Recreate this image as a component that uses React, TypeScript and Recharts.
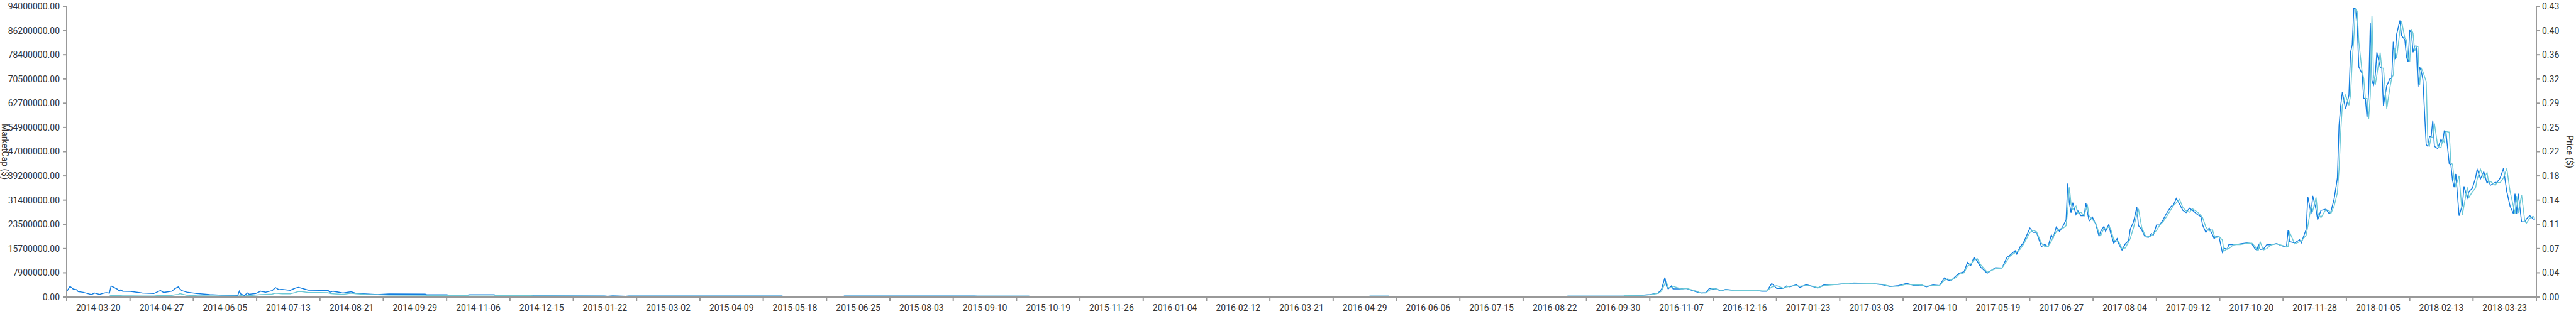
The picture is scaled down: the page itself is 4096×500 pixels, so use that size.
import React from 'react';
import { LineChart, Line, XAxis, YAxis } from 'recharts';

// days since 2014-03-01
const days = [
  0, 2, 4, 6, 7, 10, 15, 17, 20, 22, 24, 26, 27, 29, 31, 32, 33, 34, 39, 46,
  53, 57, 59, 64, 66, 68, 69, 70, 73, 79, 87, 94, 102, 104, 105, 106, 108, 110, 111, 115,
  118, 121, 125, 127, 129, 131, 136, 139, 141, 143, 147, 154, 159, 160, 162, 168, 173, 176, 182, 189,
  196, 218, 219, 231, 233, 243, 245, 260, 261, 282, 284, 291, 327, 329, 332, 340, 342, 435, 436, 472,
  473, 552, 554, 585, 587, 724, 762, 792, 793, 804, 805, 870, 871, 899, 901, 911, 913, 947, 948, 958,
  963, 968, 970, 972, 973, 974, 976, 977, 982, 985, 991, 994, 997, 999, 1001, 1003, 1006, 1009, 1014, 1026,
  1031, 1034, 1037, 1040, 1044, 1046, 1048, 1052, 1054, 1058, 1062, 1065, 1069, 1077, 1087, 1097, 1104, 1109, 1114, 1119,
  1124, 1128, 1131, 1135, 1139, 1142, 1144, 1146, 1149, 1151, 1154, 1156, 1158, 1160, 1162, 1164, 1168, 1173, 1177, 1180,
  1182, 1185, 1186, 1188, 1190, 1194, 1196, 1198, 1201, 1203, 1205, 1207, 1208, 1210, 1212, 1214, 1216, 1217, 1218, 1219,
  1220, 1222, 1223, 1225, 1227, 1228, 1229, 1230, 1232, 1234, 1236, 1237, 1239, 1240, 1242, 1243, 1245, 1247, 1248, 1250,
  1252, 1254, 1255, 1257, 1259, 1260, 1262, 1264, 1266, 1268, 1269, 1271, 1273, 1275, 1277, 1280, 1281, 1283, 1285, 1287,
  1289, 1291, 1293, 1296, 1298, 1299, 1301, 1303, 1305, 1306, 1307, 1309, 1311, 1312, 1314, 1315, 1318, 1322, 1326, 1329,
  1331, 1332, 1333, 1334, 1336, 1338, 1341, 1344, 1347, 1350, 1351, 1352, 1355, 1358, 1359, 1362, 1363, 1365, 1366, 1368,
  1369, 1371, 1374, 1376, 1377, 1379, 1381, 1382, 1383, 1384, 1386, 1388, 1389, 1390, 1391, 1392, 1393, 1394, 1396, 1397,
  1398, 1399, 1400, 1401, 1402, 1403, 1404, 1405, 1407, 1408, 1409, 1411, 1413, 1414, 1415, 1416, 1417, 1419, 1420, 1422,
  1423, 1424, 1425, 1426, 1427, 1428, 1429, 1430, 1431, 1432, 1433, 1435, 1436, 1437, 1438, 1439, 1440, 1442, 1444, 1445,
  1446, 1447, 1449, 1450, 1451, 1452, 1453, 1455, 1457, 1458, 1460, 1461, 1463, 1465, 1466, 1468, 1470, 1472, 1473, 1474,
  1477, 1478, 1480, 1482, 1484, 1486, 1488, 1489, 1490, 1491, 1493, 1495, 1496, 1498, 1500, 1501,
];

// market cap, millions of $
const marketCapM = [
  1.77, 3.45, 2.6, 2.4, 1.77, 1.55, 0.81, 1.3, 0.88, 1.2, 1.4, 1.3, 3.6, 3.05, 2.5, 1.9, 2.4, 1.9, 1.83, 1.3,
  1.15, 2.1, 1.5, 1.9, 2.8, 3.3, 2.6, 2.1, 1.6, 1.15, 0.8, 0.6, 0.55, 0.5, 1.9, 0.95, 0.55, 1.35, 0.9, 1.15,
  1.9, 1.6, 2.1, 3.05, 2.4, 2.5, 2.2, 2.9, 3.15, 2.85, 2.25, 2.2, 2.2, 1.55, 1.9, 1.3, 1.7, 1.2, 1.0, 0.8,
  1.0, 0.95, 0.75, 0.75, 0.6, 0.55, 0.75, 0.75, 0.55, 0.55, 0.45, 0.4, 0.35, 0.25, 0.4, 0.25, 0.35, 0.35, 0.15, 0.15,
  0.35, 0.35, 0.28, 0.28, 0.15, 0.15, 0.25, 0.25, 0.3, 0.3, 0.1, 0.1, 0.25, 0.25, 0.1, 0.1, 0.3, 0.3, 0.55, 0.6,
  0.8, 1.3, 2.6, 6.3, 3.5, 2.64, 3.6, 2.64, 2.64, 2.8, 1.7, 1.3, 1.4, 2.8, 2.6, 2.7, 2.0, 2.5, 2.2, 2.2,
  1.9, 1.9, 4.4, 2.8, 2.8, 3.6, 3.3, 4.0, 3.1, 4.0, 3.4, 2.9, 4.0, 4.1, 4.5, 4.4, 4.0, 3.4, 3.7, 4.4,
  3.7, 3.9, 3.3, 3.9, 3.7, 6.2, 5.5, 5.3, 6.8, 7.7, 8.2, 11.2, 10.2, 12.8, 11.6, 9.7, 7.7, 9.5, 9.4, 12.8,
  13.6, 15.0, 13.9, 16.2, 17.5, 22.3, 20.9, 20.9, 16.3, 17.0, 16.2, 20.1, 18.9, 22.6, 21.2, 22.8, 25.0, 36.7, 30.4, 27.3,
  30.5, 26.7, 28.0, 26.3, 26.3, 30.4, 27.3, 24.6, 25.8, 23.6, 19.7, 21.2, 22.8, 21.2, 23.5, 20.9, 17.4, 18.9, 17.2, 15.2,
  17.2, 18.2, 21.9, 24.3, 29.0, 23.1, 21.7, 19.5, 19.3, 20.5, 20.0, 23.3, 23.3, 25.0, 27.0, 29.4, 29.4, 31.9, 30.0, 28.0,
  27.3, 28.7, 28.0, 26.6, 26.0, 23.3, 20.9, 22.3, 20.2, 18.9, 19.5, 19.5, 14.5, 15.8, 15.5, 17.0, 16.9, 17.2, 17.5, 17.2,
  15.5, 15.2, 16.9, 15.4, 15.5, 16.9, 16.9, 17.3, 16.6, 16.2, 21.6, 17.9, 17.5, 18.5, 17.5, 21.9, 32.4, 27.0, 32.7, 28.3,
  25.0, 28.0, 28.4, 27.0, 27.5, 31.7, 38.5, 55.4, 61.9, 66.2, 60.8, 65.2, 79.1, 81.5, 93.4, 93.2, 88.6, 74.4, 72.3, 64.2,
  64.2, 58.1, 66.2, 88.5, 70.0, 68.6, 71.7, 79.1, 74.4, 74.0, 61.9, 68.3, 70.6, 70.6, 82.5, 76.9, 84.9, 89.4, 84.5, 83.2,
  77.7, 76.0, 86.2, 85.6, 79.1, 81.1, 81.1, 67.9, 74.4, 73.0, 70.3, 49.3, 48.7, 52.0, 51.7, 57.1, 48.7, 48.0, 51.0, 49.9,
  53.7, 53.4, 43.2, 42.9, 37.8, 35.5, 39.8, 26.3, 29.7, 35.8, 32.1, 34.1, 35.1, 38.5, 41.3, 38.2, 40.5, 36.8, 37.8, 36.1,
  37.1, 37.0, 38.5, 41.6, 34.1, 29.4, 27.0, 33.4, 27.0, 33.4, 24.3, 24.3, 25.3, 26.3, 25.3, 25.0,
];

// price, $
const price = [
  0.0006, 0.0009, 0.0012, 0.0009, 0.0007, 0.0009, 0.0006, 0.0009, 0.0006, 0.0007, 0.0009, 0.0012, 0.0025, 0.0028, 0.0025, 0.0022, 0.0022, 0.0019, 0.0019, 0.0016,
  0.0016, 0.0025, 0.0022, 0.0025, 0.0034, 0.004, 0.0053, 0.0045, 0.0028, 0.0022, 0.0019, 0.0016, 0.0016, 0.0014, 0.0019, 0.0028, 0.0009, 0.0028, 0.0022, 0.0031,
  0.0037, 0.004, 0.0044, 0.0059, 0.0053, 0.005, 0.005, 0.0068, 0.0084, 0.0081, 0.0068, 0.0068, 0.0065, 0.0053, 0.005, 0.004, 0.0059, 0.005, 0.004, 0.0034,
  0.003, 0.0028, 0.0026, 0.0025, 0.0022, 0.0022, 0.003, 0.003, 0.0022, 0.0022, 0.0019, 0.0017, 0.0015, 0.0011, 0.0015, 0.0011, 0.0015, 0.0015, 0.0007, 0.0007,
  0.0015, 0.0015, 0.0013, 0.0013, 0.0007, 0.0007, 0.0011, 0.0011, 0.0014, 0.0014, 0.0005, 0.0005, 0.0011, 0.0011, 0.0005, 0.0005, 0.0014, 0.0014, 0.0025, 0.0027,
  0.0035, 0.0055, 0.009, 0.02, 0.022, 0.014, 0.014, 0.016, 0.012, 0.013, 0.009, 0.006, 0.006, 0.01, 0.013, 0.012, 0.01, 0.011, 0.01, 0.01,
  0.009, 0.009, 0.015, 0.017, 0.013, 0.015, 0.016, 0.017, 0.016, 0.017, 0.016, 0.014, 0.017, 0.019, 0.021, 0.02, 0.019, 0.016, 0.016, 0.019,
  0.018, 0.018, 0.016, 0.017, 0.017, 0.025, 0.027, 0.025, 0.029, 0.034, 0.036, 0.046, 0.049, 0.055, 0.057, 0.048, 0.037, 0.042, 0.043, 0.054,
  0.061, 0.066, 0.067, 0.071, 0.078, 0.096, 0.099, 0.097, 0.08, 0.075, 0.075, 0.083, 0.089, 0.097, 0.101, 0.102, 0.106, 0.13, 0.163, 0.138,
  0.13, 0.135, 0.125, 0.126, 0.121, 0.13, 0.136, 0.12, 0.115, 0.11, 0.095, 0.091, 0.102, 0.101, 0.104, 0.102, 0.085, 0.083, 0.082, 0.072,
  0.073, 0.082, 0.087, 0.103, 0.122, 0.131, 0.103, 0.092, 0.089, 0.091, 0.094, 0.099, 0.107, 0.112, 0.119, 0.131, 0.135, 0.14, 0.145, 0.133,
  0.128, 0.126, 0.131, 0.126, 0.121, 0.118, 0.104, 0.098, 0.1, 0.092, 0.088, 0.09, 0.085, 0.068, 0.072, 0.072, 0.078, 0.078, 0.08, 0.08,
  0.075, 0.07, 0.07, 0.082, 0.07, 0.072, 0.078, 0.079, 0.077, 0.075, 0.075, 0.096, 0.079, 0.082, 0.083, 0.092, 0.105, 0.135, 0.128, 0.148,
  0.125, 0.118, 0.13, 0.128, 0.124, 0.135, 0.155, 0.19, 0.245, 0.285, 0.3, 0.285, 0.3, 0.35, 0.385, 0.428, 0.425, 0.38, 0.335, 0.325,
  0.295, 0.295, 0.265, 0.3, 0.418, 0.33, 0.315, 0.33, 0.363, 0.34, 0.34, 0.28, 0.312, 0.325, 0.33, 0.37, 0.355, 0.395, 0.41, 0.385,
  0.382, 0.355, 0.35, 0.398, 0.392, 0.365, 0.372, 0.372, 0.315, 0.34, 0.335, 0.32, 0.23, 0.225, 0.238, 0.237, 0.258, 0.224, 0.222, 0.234,
  0.23, 0.246, 0.245, 0.2, 0.197, 0.175, 0.165, 0.18, 0.122, 0.136, 0.163, 0.148, 0.156, 0.162, 0.175, 0.19, 0.176, 0.185, 0.17, 0.172,
  0.166, 0.17, 0.17, 0.177, 0.191, 0.157, 0.135, 0.124, 0.15, 0.125, 0.152, 0.112, 0.11, 0.117, 0.12, 0.117,
];

const xLabels = [
  '2014-03-20', '2014-04-27', '2014-06-05', '2014-07-13', '2014-08-21', '2014-09-29', '2014-11-06', '2014-12-15',
  '2015-01-22', '2015-03-02', '2015-04-09', '2015-05-18', '2015-06-25', '2015-08-03', '2015-09-10', '2015-10-19',
  '2015-11-26', '2016-01-04', '2016-02-12', '2016-03-21', '2016-04-29', '2016-06-06', '2016-07-15', '2016-08-22',
  '2016-09-30', '2016-11-07', '2016-12-16', '2017-01-23', '2017-03-03', '2017-04-10', '2017-05-19', '2017-06-27',
  '2017-08-04', '2017-09-12', '2017-10-20', '2017-11-28', '2018-01-05', '2018-02-13', '2018-03-23',
];

const capLabels = [
  '0.00', '7900000.00', '15700000.00', '23500000.00', '31400000.00', '39200000.00', '47000000.00',
  '54900000.00', '62700000.00', '70500000.00', '78400000.00', '86200000.00', '94000000.00',
];
const priceLabels = ['0.00', '0.04', '0.07', '0.11', '0.14', '0.18', '0.22', '0.25', '0.29', '0.32', '0.36', '0.40', '0.43'];

const CAP_MAX = 94000000;
const PRICE_MAX = 0.432;
const DAY_MAX = 1502;

const W = 4096;
const H = 500;
const LEFT_W = 106;
const RIGHT_W = 63;
const HALF_STEP = (W - LEFT_W - RIGHT_W) / xLabels.length / 2;

const FONT = 'Roboto, sans-serif';
const TEXT = '#333';
const AXIS = '#999';

const chartData = days.map((d, i) => ({
  day: d,
  marketCap: marketCapM[i] * 1e6,
  price: price[i],
}));

const capTicks = capLabels.map((_, i) => (i * CAP_MAX) / (capLabels.length - 1));
const priceTicks = priceLabels.map((_, i) => (i * PRICE_MAX) / (priceLabels.length - 1));
const dayTicks = [...xLabels, ''].map((_, i) => (i * DAY_MAX) / xLabels.length);

function DateTick(props: any) {
  const { x, y, index } = props;
  const label = xLabels[index];
  if (!label) return null;
  return (
    <text x={x + HALF_STEP} y={y} dy={14} textAnchor="middle" fill={TEXT} fontSize={14} fontFamily={FONT}>
      {label}
    </text>
  );
}

function AxisTitle(props: any) {
  const { viewBox, text, side } = props;
  const cx = side === 'left' ? viewBox.x + 3 : viewBox.x + 48;
  const cy = viewBox.y + viewBox.height / 2;
  return (
    <text
      x={cx}
      y={cy}
      transform={`rotate(90, ${cx}, ${cy})`}
      textAnchor="middle"
      fill={TEXT}
      fontSize={14}
      fontFamily={FONT}
    >
      {text}
    </text>
  );
}

export default function App() {
  return (
    <div style={{ position: 'absolute', left: 0, top: 0, background: '#fff' }}>
      <LineChart width={W} height={H} data={chartData} margin={{ top: 10, right: 0, bottom: 0, left: 0 }}>
        <XAxis
          dataKey="day"
          type="number"
          domain={[0, DAY_MAX]}
          ticks={dayTicks}
          interval={0}
          height={27}
          tick={<DateTick />}
          tickSize={6}
          axisLine={{ stroke: AXIS, strokeWidth: 2 }}
          tickLine={{ stroke: AXIS, strokeWidth: 2 }}
        />
        <YAxis
          yAxisId="left"
          domain={[0, CAP_MAX]}
          ticks={capTicks}
          interval={0}
          width={LEFT_W}
          tickSize={6}
          tickMargin={5}
          tickFormatter={(_v: number, i: number) => capLabels[i]}
          tick={{ fill: TEXT, fontSize: 14, fontFamily: FONT }}
          axisLine={{ stroke: AXIS, strokeWidth: 2 }}
          tickLine={{ stroke: AXIS, strokeWidth: 2 }}
          label={<AxisTitle text="MarketCap ($)" side="left" />}
        />
        <YAxis
          yAxisId="right"
          orientation="right"
          domain={[0, PRICE_MAX]}
          ticks={priceTicks}
          interval={0}
          width={RIGHT_W}
          tickSize={6}
          tickMargin={3}
          tickFormatter={(_v: number, i: number) => priceLabels[i]}
          tick={{ fill: TEXT, fontSize: 14, fontFamily: FONT }}
          axisLine={{ stroke: AXIS, strokeWidth: 2 }}
          tickLine={{ stroke: AXIS, strokeWidth: 2 }}
          label={<AxisTitle text="Price ($)" side="right" />}
        />
        <Line
          yAxisId="left"
          type="linear"
          dataKey="marketCap"
          stroke="#137ee0"
          strokeWidth={1.5}
          dot={false}
          isAnimationActive={false}
        />
        <Line
          yAxisId="right"
          type="linear"
          dataKey="price"
          stroke="#6cc9d6"
          strokeWidth={1.5}
          dot={false}
          isAnimationActive={false}
        />
      </LineChart>
    </div>
  );
}
